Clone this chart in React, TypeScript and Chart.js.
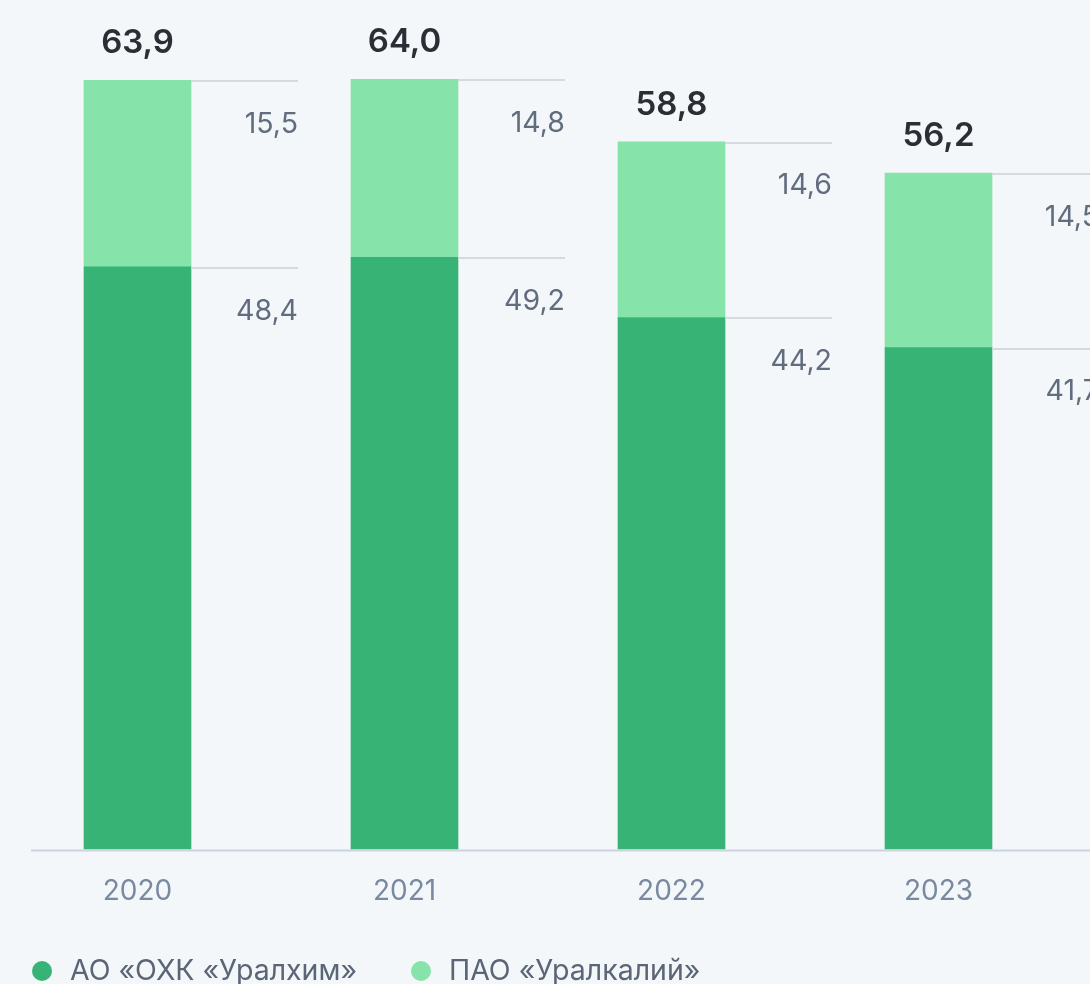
import React, { useEffect, useRef } from "react";
import { Chart, registerables } from "chart.js";

Chart.register(...registerables);

const categories = ["2020", "2021", "2022", "2023"];
const seriesNames = ["АО «ОХК «Уралхим»", "ПАО «Уралкалий»"];
const uralchem = [48.4, 49.2, 44.2, 41.7];
const uralkali = [15.5, 14.8, 14.6, 14.5];
const totals = [63.9, 64.0, 58.8, 56.2];

const DARK = "#38b376";
const LIGHT = "#86e3a9";
const BG = "#f3f7fa";
const FONT = "Inter, 'Noto Sans', sans-serif";

const fmt = (v: number) => v.toFixed(1).replace(".", ",");

const overlay = {
  id: "overlay",
  afterDatasetsDraw(chart: any) {
    const ctx = chart.ctx;
    const bottomMeta = chart.getDatasetMeta(0);
    const topMeta = chart.getDatasetMeta(1);
    ctx.save();
    // axis line
    ctx.strokeStyle = "#cdd3df";
    ctx.lineWidth = 2;
    ctx.beginPath();
    ctx.moveTo(31, chart.chartArea.bottom + 1);
    ctx.lineTo(chart.width, chart.chartArea.bottom + 1);
    ctx.stroke();

    categories.forEach((_, i) => {
      const b = bottomMeta.data[i];
      const t = topMeta.data[i];
      const half = b.width / 2;
      const right = b.x + half;
      const lineEnd = right + 107;
      // connectors
      ctx.strokeStyle = "#d5d9e2";
      ctx.lineWidth = 2;
      [t.y, b.y].forEach((yy: number) => {
        ctx.beginPath();
        ctx.moveTo(right, Math.round(yy) + 1);
        ctx.lineTo(lineEnd, Math.round(yy) + 1);
        ctx.stroke();
      });
      // segment labels
      ctx.fillStyle = "#616d7f";
      ctx.font = `400 28.5px ${FONT}`;
      ctx.textAlign = "right";
      ctx.textBaseline = "middle";
      ctx.fillText(fmt(uralkali[i]), lineEnd, t.y + 44);
      ctx.fillText(fmt(uralchem[i]), lineEnd, b.y + 44);
      // totals
      ctx.fillStyle = "#2a2e35";
      ctx.font = `600 33px ${FONT}`;
      ctx.textAlign = "center";
      ctx.fillText(fmt(totals[i]), b.x, t.y - 37);
    });

    // legend
    const ly = 971;
    const items = [
      { x: 42, color: DARK, label: chart.data.datasets[0].label },
      { x: 421, color: LIGHT, label: chart.data.datasets[1].label },
    ];
    items.forEach((it) => {
      ctx.fillStyle = it.color;
      ctx.beginPath();
      ctx.arc(it.x, ly, 10, 0, Math.PI * 2);
      ctx.fill();
      ctx.fillStyle = "#5a6576";
      ctx.font = `400 28.5px ${FONT}`;
      ctx.textAlign = "left";
      ctx.textBaseline = "middle";
      ctx.fillText(it.label, it.x + 28, ly);
    });
    ctx.restore();
  },
};

export default function App() {
  const ref = useRef<HTMLCanvasElement | null>(null);
  useEffect(() => {
    document.body.style.margin = "0";
    document.body.style.background = BG;
    const chart = new Chart(ref.current as HTMLCanvasElement, {
      type: "bar",
      data: {
        labels: categories,
        datasets: [
          { label: seriesNames[0], data: uralchem, backgroundColor: DARK, barThickness: 107 },
          { label: seriesNames[1], data: uralkali, backgroundColor: LIGHT, barThickness: 107 },
        ],
      },
      options: {
        animation: false,
        responsive: false,
        maintainAspectRatio: false,
        layout: { padding: { left: 4, right: 18, top: 7, bottom: 59 } },
        plugins: { legend: { display: false }, tooltip: { enabled: false } },
        scales: {
          x: {
            stacked: true,
            grid: { display: false },
            border: { display: false },
            ticks: { color: "#7a89a0", font: { family: FONT, size: 28 }, padding: 17 },
          },
          y: { stacked: true, display: false, min: 0, max: 70 },
        },
      },
      plugins: [overlay],
    });
    return () => chart.destroy();
  }, []);
  return (
    <div style={{ width: 1090, height: 984, background: BG, overflow: "hidden" }}>
      <canvas ref={ref} width={1090} height={984} style={{ display: "block" }} />
    </div>
  );
}
